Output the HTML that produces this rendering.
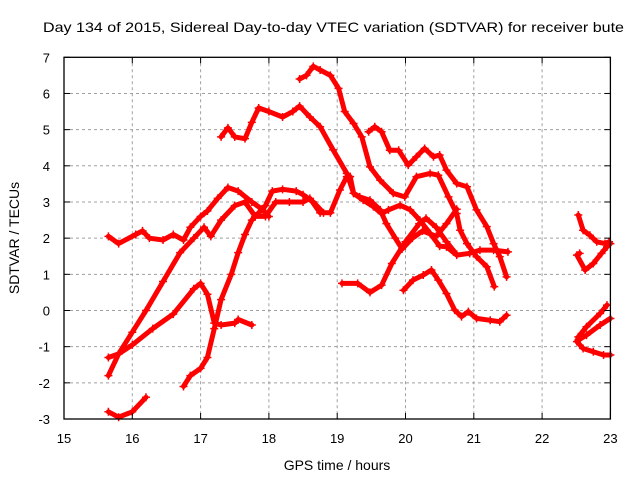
<!DOCTYPE html>
<html><head><meta charset="utf-8"><style>
body{margin:0;background:#fff}
svg{display:block;font-family:"Liberation Sans",sans-serif}
</style></head><body>
<svg id="chart" width="640" height="480">
<text x="43" y="32" font-size="14" textLength="581" lengthAdjust="spacingAndGlyphs">Day 134 of 2015, Sidereal Day-to-day VTEC variation (SDTVAR) for receiver bute</text>
<text x="337" y="470" font-size="14" text-anchor="middle">GPS time / hours</text>
<text transform="translate(19,238) rotate(-90)" font-size="14" text-anchor="middle">SDTVAR / TECUs</text>
<g id="grid"></g><g id="series"></g><g id="axes"></g>
</svg>
<script>
const xTicks=[15,16,17,18,19,20,21,22,23];
const yTicks=[-3,-2,-1,0,1,2,3,4,5,6,7];
const tA=[15.65,15.8,16.05,16.15,16.25,16.45,16.6,16.75,16.85,17.0,17.1,17.25,17.4,17.55,17.75,17.9,18.0];
const vA=[2.05,1.85,2.1,2.2,2.0,1.95,2.1,1.95,2.3,2.6,2.75,3.1,3.4,3.3,3.0,2.8,2.6];
const tB=[15.65,15.8,16.0,16.3,16.6,16.9,17.0,17.1,17.2,17.3,17.5,17.55,17.75];
const vB=[-1.3,-1.2,-0.95,-0.5,-0.1,0.6,0.75,0.45,-0.35,-0.4,-0.35,-0.25,-0.4];
const tC=[15.65,15.8,16.0,16.2,16.45,16.7,16.9,17.05,17.15,17.3,17.5,17.65,17.8,17.95,18.1,18.3,18.5,18.6,18.75,18.9,19.04,19.14,19.19,19.24,19.33,19.48,19.63,19.72,19.85,19.95,20.1,20.25,20.45,20.6,20.75];
const vC=[-1.8,-1.2,-0.6,0.0,0.8,1.6,2.0,2.3,2.05,2.5,2.9,3.0,2.6,2.6,3.0,3.0,3.0,3.1,2.7,2.7,3.33,3.7,3.7,3.24,3.14,3.05,2.78,2.4,2.0,1.7,2.0,2.2,2.05,2.4,2.8];
const tD=[16.75,16.85,17.0,17.1,17.2,17.3,17.45,17.55,17.65,17.75,17.85,17.95,18.05,18.2,18.4,18.5,18.65,18.8];
const vD=[-2.1,-1.8,-1.6,-1.3,-0.5,0.3,1.0,1.6,2.1,2.5,2.7,2.9,3.3,3.35,3.3,3.2,3.0,2.7];
const tE=[15.65,15.8,16.0,16.2];
const vE=[-2.8,-2.95,-2.8,-2.4];
const tF=[17.3,17.4,17.5,17.65,17.75,17.85,18.0,18.2,18.35,18.45,18.6,18.75,18.94,19.14,19.24,19.38,19.53,19.65,19.75,19.92,20.07,20.21,20.36,20.5,20.6,20.75,20.94,21.09,21.29,21.5];
const vF=[4.8,5.05,4.8,4.75,5.2,5.6,5.5,5.35,5.5,5.65,5.35,5.08,4.44,3.79,3.24,3.05,2.87,2.68,2.78,2.91,2.78,2.5,2.13,1.78,1.76,1.53,1.58,1.67,1.67,1.62];
const tG=[18.45,18.55,18.65,18.75,18.9,19.02,19.11,19.24,19.36,19.48,19.63,19.82,19.99,20.16,20.36,20.48,20.63,20.75,20.8,20.9,21.04,21.19,21.3];
const vG=[6.4,6.5,6.75,6.65,6.5,6.14,5.5,5.17,4.8,3.97,3.6,3.24,3.14,3.7,3.79,3.74,3.14,2.68,2.22,1.85,1.49,1.21,0.66];
const tH=[19.46,19.55,19.65,19.77,19.9,20.04,20.16,20.28,20.41,20.5,20.6,20.75,20.9,21.04,21.19,21.29,21.38,21.48];
const vH=[4.94,5.08,4.94,4.43,4.43,4.02,4.25,4.48,4.25,4.3,3.88,3.51,3.42,2.78,2.32,1.85,1.49,0.93];
const tJ=[19.07,19.3,19.48,19.65,19.8,20.0,20.2,20.3,20.45,20.6,20.75];
const vJ=[0.75,0.75,0.5,0.7,1.3,1.9,2.4,2.55,2.3,1.9,1.55];
const tK=[19.97,20.11,20.26,20.38,20.48,20.6,20.72,20.82,20.92,21.04,21.24,21.38,21.48];
const vK=[0.56,0.84,0.98,1.12,0.84,0.47,0.01,-0.17,-0.03,-0.22,-0.27,-0.31,-0.13];
const tL=[22.53,22.6,22.7,22.8,22.92,22.98];
const vL=[2.64,2.22,2.08,1.9,1.85,1.9];
const tM=[22.55,22.51,22.63,22.75,22.87,22.95,23.0];
const vM=[1.58,1.53,1.12,1.3,1.58,1.76,1.85];
const tN=[22.95,22.85,22.65,22.53,22.51,22.6,22.75,22.9,23.0];
const vN=[0.15,-0.08,-0.45,-0.73,-0.86,-1.05,-1.14,-1.23,-1.23];
const tO=[23.0,22.85,22.65,22.53];
const vO=[-0.22,-0.4,-0.68,-0.82];
const seriesList=[[tA,vA,'a'],[tB,vB,'b'],[tC,vC,'c'],[tD,vD,'d'],[tE,vE,'e'],[tF,vF,'f'],[tG,vG,'g'],[tH,vH,'h'],[tJ,vJ,'j'],[tK,vK,'k'],[tL,vL,'l'],[tM,vM,'m'],[tN,vN,'n'],[tO,vO,'o']];
const X0=64,X1=610.4,Y0=419,Y1=57.3,xmin=15,xmax=23,ymin=-3,ymax=7;
const sx=t=>X0+(t-xmin)/(xmax-xmin)*(X1-X0);
const sy=v=>Y0-(v-ymin)/(ymax-ymin)*(Y0-Y1);
const NS='http://www.w3.org/2000/svg';
function mk(tag,attrs,parent){const e=document.createElementNS(NS,tag);for(const k in attrs)e.setAttribute(k,attrs[k]);parent.appendChild(e);return e;}
const grid=document.getElementById('grid'),axes=document.getElementById('axes'),ser=document.getElementById('series');
xTicks.forEach(t=>{
  const x=sx(t);
  if(t>xmin&&t<xmax){const g=mk('line',{x1:x,x2:x,y1:Y1,y2:Y0,stroke:'#a0a0a0','stroke-dasharray':'3,3'},grid);
  
  }
  mk('line',{x1:x,x2:x,y1:Y0,y2:Y0-6,stroke:'#000'},axes);
  mk('line',{x1:x,x2:x,y1:Y1,y2:Y1+6,stroke:'#000'},axes);
  const l=mk('text',{x:x,y:443,'font-size':13,'text-anchor':'middle'},axes);l.textContent=t;
  
  
});
yTicks.forEach(v=>{
  const y=sy(v);
  if(v>ymin&&v<ymax){const g=mk('line',{x1:X0,x2:X1,y1:y,y2:y,stroke:'#a0a0a0','stroke-dasharray':'3,3'},grid);
  
  }
  mk('line',{x1:X0,x2:X0+6,y1:y,y2:y,stroke:'#000'},axes);
  mk('line',{x1:X1,x2:X1-6,y1:y,y2:y,stroke:'#000'},axes);
  const l=mk('text',{x:50,y:y+5,'font-size':13,'text-anchor':'end'},axes);l.textContent=v;
  
  
});
const fr=mk('rect',{x:X0,y:Y1,width:X1-X0,height:Y0-Y1,fill:'none',stroke:'#000','stroke-width':1.3},axes);


seriesList.forEach(([ts,vs,id])=>{
  const pts=ts.map((t,i)=>sx(t).toFixed(1)+','+sy(vs[i]).toFixed(1)).join(' ');
  const p=mk('polyline',{points:pts,fill:'none',stroke:'#ff0000','stroke-width':5,'stroke-linejoin':'round','stroke-linecap':'round'},ser);
  
  
  ts.forEach((t,i)=>{
    const x=sx(t),y=sy(vs[i]);
    const m=mk('path',{d:`M${x-4},${y}H${x+4}M${x},${y-4}V${y+4}`,stroke:'#ff0000','stroke-width':1.5},ser);
    
    
  });
});
</script>
</body></html>
